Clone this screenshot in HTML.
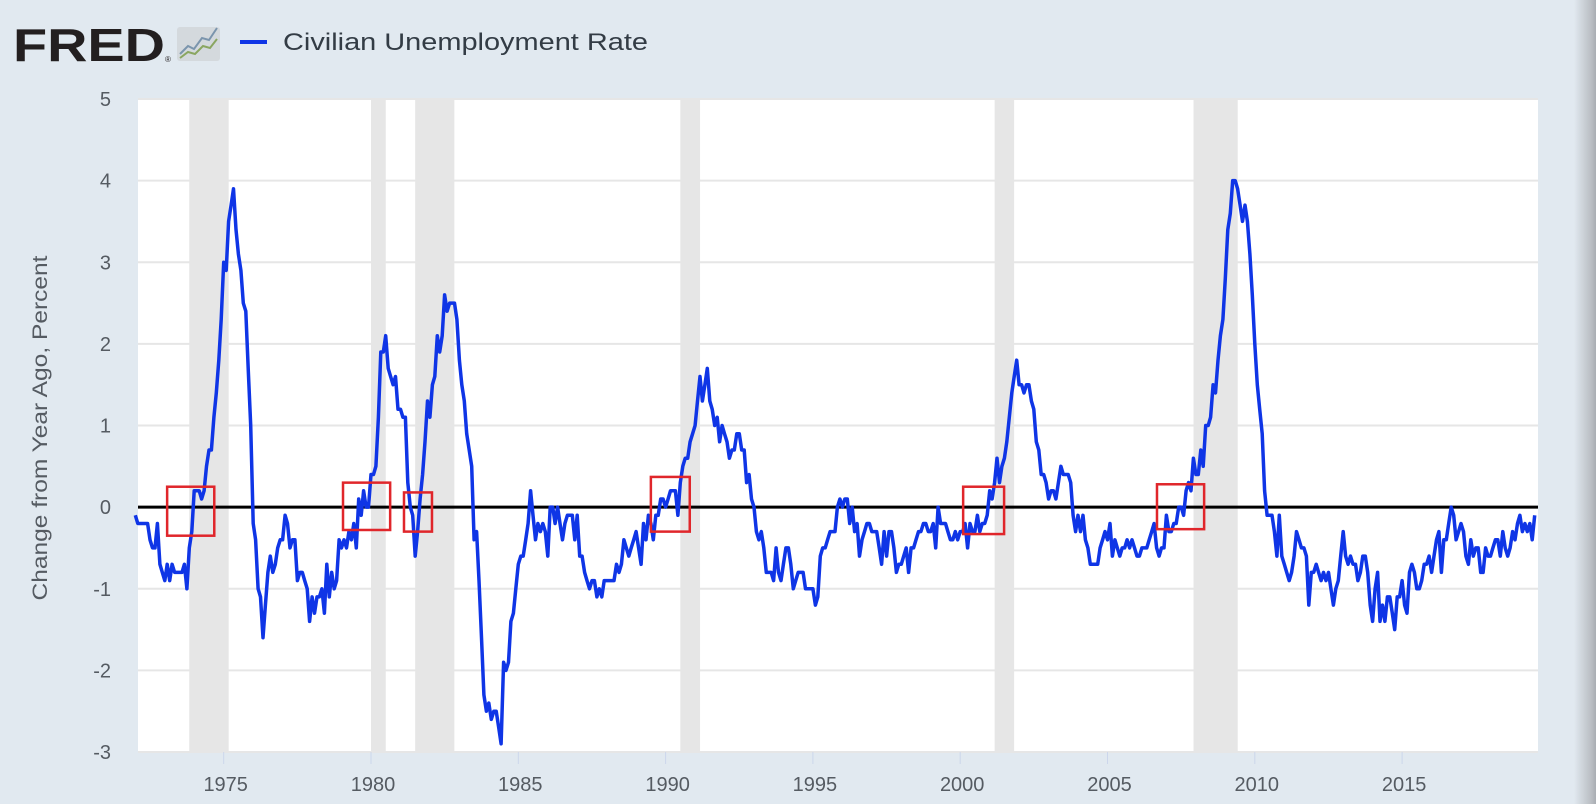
<!DOCTYPE html>
<html><head><meta charset="utf-8"><style>
body{margin:0;width:1596px;height:804px;background:#e1e9f0;overflow:hidden;font-family:"Liberation Sans",sans-serif;position:relative}
#shade{position:absolute;right:0;top:0;width:22px;height:804px;background:linear-gradient(to right,#e1e9f0,#b9bdc2 80%,#a9adb2)}
</style></head><body>
<div id="shade"></div>
<svg id="chart" width="1596" height="804" style="position:absolute;left:0;top:0">
<g>
<text x="13" y="61" font-size="46" font-weight="bold" fill="#231f20" textLength="152" lengthAdjust="spacingAndGlyphs">FRED</text>
<text x="165" y="62" font-size="8" fill="#231f20">®</text>
<rect x="177" y="27" width="43" height="34" rx="3" fill="#d4d9dd"/>
<polyline points="180,54 188,46 194,49 202,38 209,40 217,28" fill="none" stroke="#7b95ad" stroke-width="2"/>
<polyline points="180,58 188,52 195,54 203,46 210,48 217,39" fill="none" stroke="#8aa661" stroke-width="2"/>
</g>
<line x1="240" y1="42" x2="267" y2="42" stroke="#0f35e6" stroke-width="4"/>
<text x="283" y="50" font-size="24" fill="#333c45" textLength="365" lengthAdjust="spacingAndGlyphs">Civilian Unemployment Rate</text>
<rect x="138" y="99" width="1400" height="653" fill="#fff"/>
<g id="bands"></g><g id="grid"></g><g id="yticks"></g><g id="xticks"></g>
<line id="zero" stroke="#000" stroke-width="3"/>
<path id="line" fill="none" stroke="#0f35e6" stroke-width="3.5" stroke-linejoin="round"/>
<g id="boxes"></g>
<text transform="translate(47,428) rotate(-90)" text-anchor="middle" font-size="21" fill="#555b62" textLength="345" lengthAdjust="spacingAndGlyphs">Change from Year Ago, Percent</text>
</svg>
<script>
const startYear = 1972;
const values = [
-.1,-.2,-.2,-.2,-.2,-.2,-.4,-.5,-.5,-.2,-.7,-.8,
-.9,-.7,-.9,-.7,-.8,-.8,-.8,-.8,-.7,-1.0,-.5,-.3,
.2,.2,.2,.1,.2,.5,.7,.7,1.1,1.4,1.8,2.3,
3.0,2.9,3.5,3.7,3.9,3.4,3.1,2.9,2.5,2.4,1.7,1.0,
-.2,-.4,-1.0,-1.1,-1.6,-1.2,-.8,-.6,-.8,-.7,-.5,-.4,
-.4,-.1,-.2,-.5,-.4,-.4,-.9,-.8,-.8,-.9,-1.0,-1.4,
-1.1,-1.3,-1.1,-1.1,-1.0,-1.3,-.7,-1.1,-.8,-1.0,-.9,-.4,
-.5,-.4,-.5,-.3,-.4,-.2,-.5,.1,-.1,.2,0,0,
.4,.4,.5,1.1,1.9,1.9,2.1,1.7,1.6,1.5,1.6,1.2,
1.2,1.1,1.1,.3,0,-.1,-.6,-.3,.1,.4,.8,1.3,
1.1,1.5,1.6,2.1,1.9,2.1,2.6,2.4,2.5,2.5,2.5,2.3,
1.8,1.5,1.3,.9,.7,.5,-.4,-.3,-.9,-1.6,-2.3,-2.5,
-2.4,-2.6,-2.5,-2.5,-2.7,-2.9,-1.9,-2.0,-1.9,-1.4,-1.3,-1.0,
-.7,-.6,-.6,-.4,-.2,.2,-.1,-.4,-.2,-.3,-.2,-.3,
-.6,0,0,-.2,0,-.2,-.4,-.2,-.1,-.1,-.1,-.4,
-.1,-.6,-.6,-.8,-.9,-1.0,-.9,-.9,-1.1,-1.0,-1.1,-.9,
-.9,-.9,-.9,-.9,-.7,-.8,-.7,-.4,-.5,-.6,-.5,-.4,
-.3,-.5,-.7,-.2,-.4,-.1,-.2,-.4,-.1,-.1,.1,.1,
0,.1,.2,.2,.2,-.1,.3,.5,.6,.6,.8,.9,
1.0,1.3,1.6,1.3,1.5,1.7,1.3,1.2,1.0,1.1,.8,1.0,
.9,.8,.6,.7,.7,.9,.9,.7,.7,.3,.4,.1,
0,-.3,-.4,-.3,-.5,-.8,-.8,-.8,-.9,-.5,-.8,-.9,
-.7,-.5,-.5,-.7,-1.0,-.9,-.8,-.8,-.8,-1.0,-1.0,-1.0,
-1.0,-1.2,-1.1,-.6,-.5,-.5,-.4,-.3,-.3,-.3,0,.1,
0,.1,.1,-.2,0,-.3,-.2,-.6,-.4,-.3,-.2,-.2,
-.3,-.3,-.3,-.5,-.7,-.3,-.6,-.3,-.3,-.5,-.8,-.7,
-.7,-.6,-.5,-.8,-.5,-.5,-.4,-.3,-.3,-.2,-.2,-.3,
-.3,-.2,-.5,0,-.2,-.2,-.2,-.3,-.4,-.4,-.3,-.4,
-.3,-.3,-.2,-.5,-.2,-.3,-.3,-.1,-.3,-.2,-.2,-.1,
.2,.1,.3,.6,.3,.5,.6,.8,1.1,1.4,1.6,1.8,
1.5,1.5,1.4,1.5,1.5,1.3,1.2,.8,.7,.4,.4,.3,
.1,.2,.2,.1,.3,.5,.4,.4,.4,.3,-.1,-.3,
-.1,-.3,-.1,-.4,-.5,-.7,-.7,-.7,-.7,-.5,-.4,-.3,
-.4,-.2,-.6,-.4,-.5,-.6,-.5,-.5,-.4,-.5,-.4,-.5,
-.6,-.6,-.5,-.5,-.5,-.4,-.3,-.2,-.5,-.6,-.5,-.5,
-.1,-.3,-.3,-.2,-.2,0,0,-.1,.2,.3,.2,.6,
.4,.4,.7,.5,1.0,1.0,1.1,1.5,1.4,1.8,2.1,2.3,
2.8,3.4,3.6,4.0,4.0,3.9,3.7,3.5,3.7,3.5,3.1,2.6,
2.0,1.5,1.2,.9,.2,-.1,-.1,-.1,-.3,-.6,-.1,-.6,
-.7,-.8,-.9,-.8,-.6,-.3,-.4,-.5,-.5,-.6,-1.2,-.8,
-.8,-.7,-.8,-.9,-.8,-.9,-.8,-1.0,-1.2,-1.0,-.9,-.6,
-.3,-.6,-.7,-.6,-.7,-.7,-.9,-.8,-.6,-.6,-.8,-1.2,
-1.4,-1.0,-.8,-1.4,-1.2,-1.4,-1.1,-1.1,-1.3,-1.5,-1.1,-1.1,
-.9,-1.2,-1.3,-.8,-.7,-.8,-1.0,-1.0,-.9,-.7,-.7,-.6,
-.8,-.6,-.4,-.3,-.8,-.4,-.4,-.2,0,-.1,-.4,-.3,
-.2,-.3,-.6,-.7,-.4,-.6,-.5,-.5,-.8,-.8,-.5,-.6,
-.6,-.5,-.4,-.4,-.6,-.3,-.5,-.6,-.5,-.3,-.4,-.2,
-.1,-.3,-.2,-.3,-.2,-.4,-.1
];
const recessionStarts = [1973.83,1980.0,1981.5,1990.5,2001.17,2007.92];
const recessionEnds   = [1975.17,1980.5,1982.83,1991.17,2001.83,2009.42];
const yTickValues = [5,4,3,2,1,0,-1,-2,-3];
const xTickYears = [1975,1980,1985,1990,1995,2000,2005,2010,2015];
const boxYears = [1973.08,1979.05,1981.12,1989.5,2000.1,2006.68];
const boxYearSpan = [1.6,1.6,0.95,1.32,1.39,1.6];
const boxLow = [-0.35,-0.28,-0.3,-0.3,-0.33,-0.27];
const boxHigh = [0.25,0.3,0.18,0.37,0.25,0.28];

const L=138,R=1538,T=99,B=752,yMin=-3,yMax=5;
const X=t=>371+(t-1980)*29.46;
const Y=v=>T+(yMax-v)/(yMax-yMin)*(B-T);
const NS='http://www.w3.org/2000/svg';
function mk(tag,attrs,parent){const e=document.createElementNS(NS,tag);for(const k in attrs)e.setAttribute(k,attrs[k]);parent.appendChild(e);return e;}
const bands=document.getElementById('bands');
recessionStarts.forEach((s,i)=>{
 const r=mk('rect',{x:X(s),y:T,width:X(recessionEnds[i])-X(s),height:B-T,fill:'#e6e6e6'},bands);
 
 
});
const grid=document.getElementById('grid'),yt=document.getElementById('yticks');
yTickValues.forEach(v=>{
 const g=mk('line',{x1:L,x2:R,y1:Y(v),y2:Y(v),stroke:'#e6e6e6','stroke-width':2},grid);
 
 
 const t=mk('text',{x:111,y:Y(v)+7,'text-anchor':'end','font-size':20,fill:'#555b62'},yt);
 t.textContent=v;
 
 
});
const xt=document.getElementById('xticks');
xTickYears.forEach(yr=>{
 const l=mk('line',{x1:X(yr),x2:X(yr),y1:B,y2:B+12,stroke:'#ccd6eb','stroke-width':1},xt);
 
 
 const t=mk('text',{x:X(yr)+2,y:791,'text-anchor':'middle','font-size':20,fill:'#555b62'},xt);
 t.textContent=yr;
 
 
});
const z=document.getElementById('zero');
z.setAttribute('x1',L);z.setAttribute('x2',R);z.setAttribute('y1',Y(0));z.setAttribute('y2',Y(0));
let d='';
values.forEach((v,i)=>{d+=(i?'L':'M')+X(startYear+i/12).toFixed(1)+','+Y(v).toFixed(1);});
document.getElementById('line').setAttribute('d',d);
const boxes=document.getElementById('boxes');
boxYears.forEach((b,i)=>{
 const r=mk('rect',{x:X(b),y:Y(boxHigh[i]),width:X(b+boxYearSpan[i])-X(b),height:Y(boxLow[i])-Y(boxHigh[i]),fill:'none',stroke:'#e0262b','stroke-width':2.5},boxes);
 
 
});
</script>
</body></html>
